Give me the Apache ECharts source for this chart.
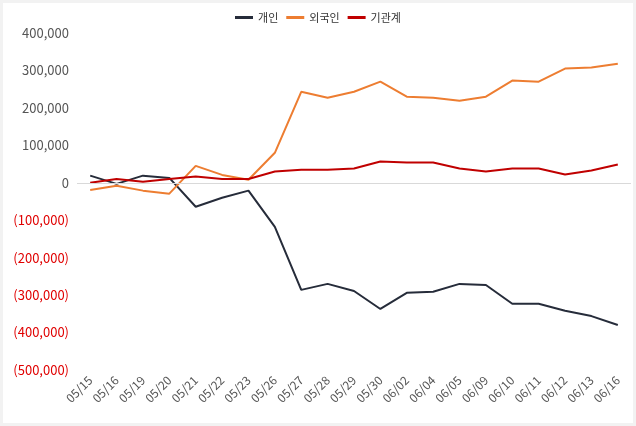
<!DOCTYPE html>
<html><head><meta charset="utf-8">
<script src="https://cdn.jsdelivr.net/npm/echarts@6/dist/echarts.min.js"></script>
<style>html,body{margin:0;background:#f2f2f2}#c{width:630px;height:420px;margin:3px;background:#fff}</style>
</head><body><div id="c"></div>
<script>
// 날짜
var dates = ['05/15','05/16','05/19','05/20','05/21','05/22','05/23','05/26','05/27','05/28','05/29','05/30','06/02','06/04','06/05','06/09','06/10','06/11','06/12','06/13','06/16'];
var individual = [19000,-3000,19000,13000,-64000,-40000,-21000,-118000,-286000,-270000,-289000,-337000,-294000,-291000,-270000,-273000,-323000,-323000,-342000,-356000,-380000];
var foreign = [-19000,-8000,-21000,-29000,45000,21000,8000,80000,243000,227000,243000,270000,230000,227000,219000,230000,273000,270000,305000,308000,318000];
var institution = [0,10000,3000,10000,17000,10000,10000,30000,35000,35000,38000,57000,54000,54000,38000,30000,38000,38000,22000,33000,49000];

function fmt(v){
    var s = Math.abs(v).toLocaleString('en-US');
    return v < 0 ? '(' + s + ')' : s;
}

var chart = echarts.init(document.getElementById('c'));
chart.setOption({
    animation: false,
    textStyle: { fontFamily: 'Noto Sans CJK KR' },
    legend: {
        top: 4, itemWidth: 18, itemHeight: 3, icon: 'rect',
        textStyle: { fontSize: 11, color: '#333' },
        data: ['개인','외국인','기관계']
    },
    grid: { left: 74, right: 2, top: 30, bottom: 53 },
    xAxis: {
        type: 'category', data: dates, boundaryGap: true,
        axisLine: { show: false }, axisTick: { show: false },
        axisLabel: { rotate: 45, color: '#555', fontSize: 12 }
    },
    yAxis: {
        type: 'value', min: -500000, max: 400000, interval: 100000,
        splitLine: { show: false },
        axisLabel: {
            fontSize: 13,
            formatter: fmt,
            color: function (v) { return v < 0 ? '#e00000' : '#555'; }
        }
    },
    series: [
        { name: '개인', type: 'line', data: individual, symbol: 'none', color: '#262c3a', lineStyle: { width: 2 },
          markLine: { silent: true, symbol: 'none', label: { show: false }, lineStyle: { color: '#d9d9d9', type: 'solid', width: 1 }, data: [{ yAxis: 0 }] } },
        { name: '외국인', type: 'line', data: foreign, symbol: 'none', color: '#ed7d31', lineStyle: { width: 2 } },
        { name: '기관계', type: 'line', data: institution, symbol: 'none', color: '#c00000', lineStyle: { width: 2 } }
    ]
});
</script></body></html>
